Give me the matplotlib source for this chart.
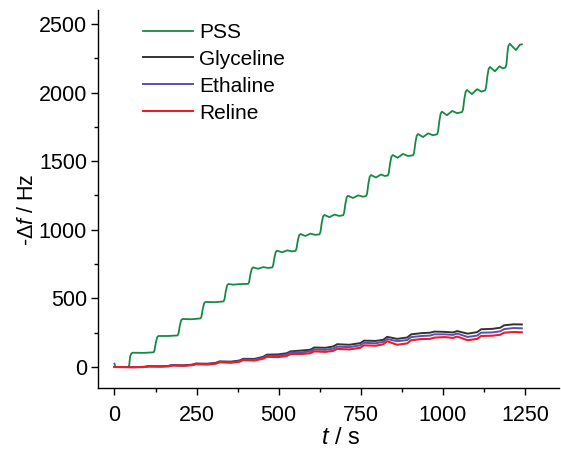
import matplotlib
matplotlib.use('Agg')
import matplotlib.pyplot as plt
from matplotlib.ticker import MultipleLocator

plt.rcParams['font.family'] = ['Liberation Sans', 'DejaVu Sans']
plt.rcParams['mathtext.fontset'] = 'custom'
plt.rcParams['mathtext.rm'] = 'Liberation Sans'
plt.rcParams['mathtext.it'] = 'Liberation Sans:italic'

# PSS film: frequency shift during repeated deposition steps
t_pss = [0, 3, 43,
         45, 48, 52, 56, 90, 119,
         122, 126, 130, 134, 165, 192,
         195, 199, 203, 207, 235, 262,
         265, 269, 273, 277, 305, 332,
         335, 339, 343, 347, 362, 380, 407,
         410, 414, 418, 422, 437, 453, 467, 480,
         483, 487, 491, 495, 510, 526, 540, 551,
         554, 558, 562, 566, 581, 597, 611, 624,
         627, 631, 635, 639, 654, 670, 684, 696,
         699, 703, 707, 711, 726, 742, 756, 766,
         769, 773, 777, 781, 796, 811, 823, 832,
         835, 839, 843, 847, 862, 878, 893, 909,
         912, 916, 920, 924, 939, 955, 969, 982,
         985, 989, 993, 997, 1012, 1028, 1043, 1058,
         1061, 1065, 1069, 1073, 1088, 1104, 1117, 1128,
         1131, 1135, 1139, 1143, 1158, 1172, 1182, 1190,
         1193, 1196, 1199, 1203, 1222, 1234, 1240]
f_pss = [25, 0, 0,
         15, 80, 100, 104, 103, 107,
         121, 178, 216, 226, 226, 230,
         244, 302, 340, 350, 348, 354,
         368, 426, 464, 474, 472, 478,
         493, 554, 595, 605, 600, 604, 606,
         620, 678, 716, 726, 716, 728, 722, 725,
         740, 799, 838, 848, 836, 850, 843, 846,
         861, 920, 959, 969, 955, 972, 963, 967,
         984, 1052, 1097, 1108, 1092, 1111, 1101, 1106,
         1123, 1191, 1237, 1248, 1232, 1251, 1241, 1246,
         1264, 1338, 1387, 1399, 1381, 1403, 1392, 1396,
         1414, 1485, 1533, 1545, 1525, 1553, 1538, 1543,
         1562, 1636, 1686, 1698, 1676, 1703, 1689, 1696,
         1716, 1795, 1848, 1861, 1835, 1866, 1850, 1858,
         1877, 1955, 2006, 2019, 1989, 2025, 2007, 2016,
         2037, 2119, 2173, 2187, 2155, 2192, 2176, 2183,
         2204, 2286, 2340, 2356, 2310, 2348, 2352]

# deep eutectic solvents, shared time base
t_des = [0, 60, 92, 104, 140, 164, 176, 210, 236, 248, 282, 308, 320, 354,
         380, 392, 426, 452, 464, 498, 524, 536, 570, 596, 608, 642, 666,
         678, 715, 748, 760, 795, 818, 830, 860, 891, 903, 935, 961, 973,
         1005, 1031, 1043, 1075, 1104, 1116, 1150, 1174, 1186, 1215, 1240]
f_glyceline = [0, -1, 1, 6, 5, 8, 14, 12, 17, 25, 24, 30, 41, 39, 47, 60, 59,
               74, 90, 92, 100, 114, 120, 126, 142, 140, 150, 166, 162, 174,
               192, 190, 198, 220, 205, 215, 238, 247, 250, 258, 256, 252,
               262, 243, 254, 275, 278, 286, 304, 311, 310]
f_ethaline = [0, -1, 1, 5, 4, 6, 12, 10, 15, 23, 21, 27, 37, 35, 42, 55, 53,
              67, 82, 82, 91, 105, 107, 114, 128, 125, 134, 148, 145, 158,
              176, 173, 183, 204, 188, 196, 218, 226, 229, 238, 238, 234,
              244, 219, 229, 250, 252, 260, 276, 284, 282]
f_reline = [0, -2, 0, 4, 3, 5, 11, 9, 13, 20, 18, 24, 34, 31, 38, 50, 47, 60,
            74, 72, 80, 94, 95, 100, 114, 110, 118, 132, 128, 140, 158, 155,
            165, 188, 162, 172, 195, 204, 205, 214, 218, 212, 222, 195, 205,
            226, 228, 235, 250, 255, 253]

fig = plt.figure(figsize=(5.61, 4.5), dpi=100)
ax = fig.add_axes([0.1747, 0.1378, 0.8217, 0.84])

ax.plot(t_pss, f_pss, color='#168a44', lw=1.3, label='PSS')
ax.plot(t_des, f_glyceline, color='#333333', lw=1.4, label='Glyceline')
ax.plot(t_des, f_ethaline, color='#5b4fb0', lw=1.4, label='Ethaline')
ax.plot(t_des, f_reline, color='#ee1c25', lw=1.5, label='Reline')

ax.set_xlim(-50, 1353)
ax.set_ylim(-153, 2602)
ax.xaxis.set_major_locator(MultipleLocator(250))
ax.xaxis.set_minor_locator(MultipleLocator(125))
ax.yaxis.set_major_locator(MultipleLocator(500))
ax.yaxis.set_minor_locator(MultipleLocator(250))

for s in ['top', 'right']:
    ax.spines[s].set_visible(False)
for s in ['left', 'bottom']:
    ax.spines[s].set_linewidth(1.0)
ax.tick_params(which='major', direction='out', length=5, width=1.0, labelsize=15.5)
ax.tick_params(which='minor', direction='out', length=3, width=1.0)
ax.tick_params(axis='x', which='major', pad=7)
ax.tick_params(axis='y', which='major', pad=3)

ax.set_xlabel(r'$\it{t}$ / s', fontsize=17)
ax.set_ylabel(r'-Δ$\it{f}$ / Hz', fontsize=15.5)
ax.xaxis.set_label_coords(0.527, -0.103)
ax.yaxis.set_label_coords(-0.13, 0.471)

ax.legend(loc='upper left', bbox_to_anchor=(0.0976, 0.966), frameon=False,
          fontsize=15, handlelength=2.4, handletextpad=0.3,
          labelspacing=0.38, borderpad=0, borderaxespad=0)

fig.savefig('out.png', dpi=100)
